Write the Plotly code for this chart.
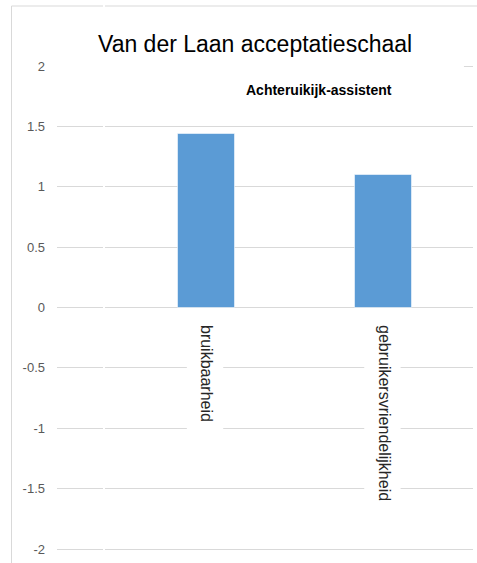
import plotly.graph_objects as go

categories = ["bruikbaarheid", "gebruikersvriendelijkheid"]
values = [1.44, 1.10]
y_ticks = [2, 1.5, 1, 0.5, 0, -0.5, -1, -1.5, -2]
y_tick_labels = ["2", "1.5", "1", "0.5", "0", "-0.5", "-1", "-1.5", "-2"]
title_text = "Van der Laan acceptatieschaal"
subtitle_text = "Achteruikijk-assistent"

W, H = 477, 563
L, R, T, B = 57, 4, 64, 12
pw = W - L - R
ph = H - T - B
ypad = 2 * 4 / 483  # 2px of padding beyond +-2 so edge gridlines show
x_range = [-0.842, 1.503]

def px_x(px):
    return (px - L) / pw

def px_y(py):
    return (H - B - py) / ph

fig = go.Figure()
fig.add_trace(go.Bar(
    x=list(range(len(categories))),
    y=values,
    width=0.32,
    marker=dict(color="#5b9bd5", line=dict(color="rgba(255,255,255,0.55)", width=1)),
    showlegend=False,
))

shapes = []
# gaps in gridlines behind category labels
label_depth = [1.3, 1.75]
for i, d in enumerate(label_depth):
    shapes.append(dict(type="rect", xref="x", yref="y", layer="between",
                       x0=i - 0.11, x1=i + 0.095, y0=-0.05, y1=-d,
                       fillcolor="white", line=dict(width=0)))
# title box hiding most of the top gridline
shapes.append(dict(type="rect", xref="x", yref="y", layer="between",
                   x0=x_range[0] - 0.05, x1=1.452, y0=1.95, y1=2.1,
                   fillcolor="white", line=dict(width=0)))
# chart border
shapes.append(dict(type="line", xref="paper", yref="paper", layer="above",
                   x0=px_x(11.5), x1=px_x(11.5), y0=px_y(6), y1=px_y(570),
                   line=dict(color="#d9d9d9", width=1)))
shapes.append(dict(type="line", xref="paper", yref="paper", layer="above",
                   x0=px_x(11.5), x1=px_x(480), y0=px_y(6), y1=px_y(6),
                   line=dict(color="#d9d9d9", width=1)))
# white seam
shapes.append(dict(type="line", xref="paper", yref="paper", layer="above",
                   x0=px_x(104), x1=px_x(104), y0=px_y(0), y1=px_y(570),
                   line=dict(color="white", width=2)))

fig.update_layout(
    width=W, height=H,
    margin=dict(l=L, r=R, t=T, b=B, pad=0),
    paper_bgcolor="white", plot_bgcolor="white",
    bargap=0,
    shapes=shapes,
    xaxis=dict(
        tickmode="array", tickvals=list(range(len(categories))), ticktext=categories,
        range=x_range, tickangle=90, showgrid=False, zeroline=False,
        showline=False, ticks="", anchor="free", position=px_y(307),
        tickfont=dict(family="Liberation Sans", size=16, color="#262626"),
        ticklabelstandoff=17,
    ),
    yaxis=dict(
        range=[-2 - ypad, 2 + ypad], tickmode="array", tickvals=y_ticks, ticktext=y_tick_labels,
        showgrid=True, gridcolor="#d9d9d9", gridwidth=1, zeroline=False,
        showline=False, ticks="",
        tickfont=dict(family="Liberation Sans", size=13, color="#595959"),
        ticklabelstandoff=11,
    ),
    annotations=[
        dict(text=title_text, xref="paper", yref="paper", x=px_x(254.5), y=px_y(44),
             xanchor="center", yanchor="middle", showarrow=False,
             font=dict(family="Liberation Sans", size=23, color="#000000")),
        dict(text="<b>" + subtitle_text + "</b>", xref="paper", yref="paper",
             x=px_x(318.5), y=px_y(90), xanchor="center", yanchor="middle", showarrow=False,
             font=dict(family="Liberation Sans", size=14, color="#000000")),
    ],
)

fig.write_html("out.html")
